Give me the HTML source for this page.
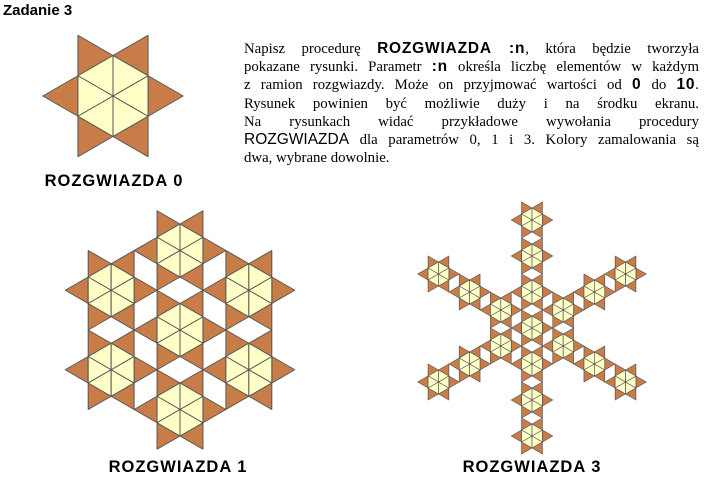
<!DOCTYPE html>
<html><head><meta charset="utf-8">
<style>
html,body{margin:0;padding:0;background:#fff;}
body{width:728px;height:500px;position:relative;overflow:hidden;}
.title{position:absolute;left:3px;top:2px;font:bold 15px "Liberation Sans",sans-serif;}
.para{position:absolute;left:244px;top:40px;width:455px;font:14.8px "Liberation Serif",serif;line-height:18.2px;}
.para div{text-align:justify;text-align-last:justify;white-space:nowrap;}
.para div.last{text-align-last:left;}
.b{font:bold 15.5px "Liberation Sans",sans-serif;letter-spacing:0.8px;}
.s{font-family:"Liberation Sans",sans-serif;font-size:15.5px;}
.lab{position:absolute;font:bold 16.5px "Liberation Sans",sans-serif;letter-spacing:1px;transform:translateX(-50%);white-space:nowrap;}
svg{position:absolute;left:0;top:0;}
</style></head>
<body>
<div class="title">Zadanie 3</div>
<div class="para">
<div>Napisz procedurę <span class="b">ROZGWIAZDA :n</span>, która będzie tworzyła</div>
<div>pokazane rysunki. Parametr <span class="b">:n</span> określa liczbę elementów w każdym</div>
<div>z ramion rozgwiazdy. Może on przyjmować wartości od <span class="b">0</span> do <span class="b">10</span>.</div>
<div>Rysunek powinien być możliwie duży i na środku ekranu.</div>
<div>Na rysunkach widać przykładowe wywołania procedury</div>
<div><span class="s">ROZGWIAZDA</span> dla parametrów 0, 1 i 3. Kolory zamalowania są</div>
<div class="last">dwa, wybrane dowolnie.</div>
</div>
<svg id="fig" width="728" height="500"></svg>
<div class="lab" style="left:114px;top:172px">ROZGWIAZDA 0</div>
<div class="lab" style="left:178px;top:458px">ROZGWIAZDA 1</div>
<div class="lab" style="left:532px;top:458px">ROZGWIAZDA 3</div>
<script>
const starN = [0, 1, 3];
const starCx = [113, 180, 532];
const starCy = [96, 330, 328];
const starSide = [40.5, 26.5, 12];

const svg = document.getElementById('fig');
const NS = 'http://www.w3.org/2000/svg';
function poly(pts, fill, name, sw) {
  const p = document.createElementNS(NS, 'polygon');
  p.setAttribute('points', pts.map(q => q[0].toFixed(2) + ',' + q[1].toFixed(2)).join(' '));
  p.setAttribute('fill', fill);
  p.setAttribute('stroke', '#555');
  p.setAttribute('stroke-width', sw);
  p.setAttribute('stroke-linejoin', 'round');
  
  
  svg.appendChild(p);
}
function star0(cx, cy, s) {
  const v = [];
  for (let k = 0; k < 6; k++) {
    const a = (90 + 60 * k) * Math.PI / 180;
    v.push([cx + s * Math.cos(a), cy - s * Math.sin(a)]);
  }
  const sw = s > 20 ? 1 : 0.7;
  for (let k = 0; k < 6; k++) {
    const a = v[k], b = v[(k + 1) % 6];
    poly([a, b, [a[0] + b[0] - cx, a[1] + b[1] - cy]], '#c87d48', 'outer-triangle', sw);
  }
  for (let k = 0; k < 6; k++) {
    const a = v[k], b = v[(k + 1) % 6];
    poly([[cx, cy], a, b], '#ffffc8', 'inner-triangle', sw);
  }
}
for (let i = 0; i < starN.length; i++) {
  const n = starN[i], s = starSide[i], cx = starCx[i], cy = starCy[i];
  const d = 3 * s;
  star0(cx, cy, s);
  for (let j = 0; j < 6; j++) {
    const a = (90 + 60 * j) * Math.PI / 180;
    for (let k = 1; k <= n; k++) {
      star0(cx + k * d * Math.cos(a), cy - k * d * Math.sin(a), s);
    }
  }
}
</script>
</body></html>
